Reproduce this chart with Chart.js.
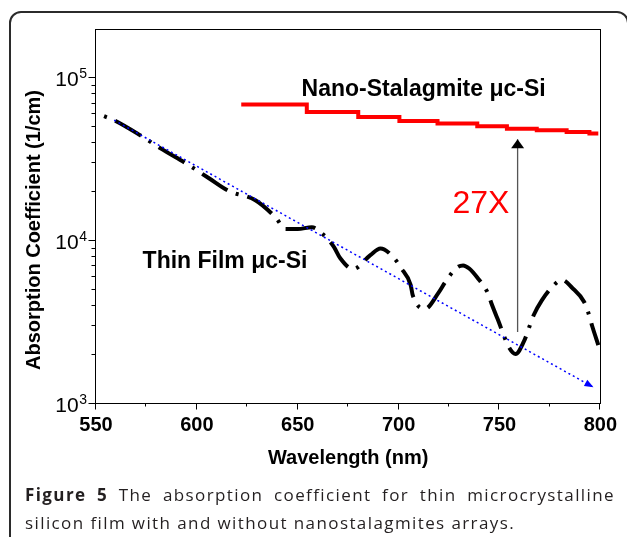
<!DOCTYPE html>
<html>
<head>
<meta charset="utf-8">
<script src="https://cdn.jsdelivr.net/npm/chart.js@4.4.1/dist/chart.umd.min.js"></script>
<style>
  html, body { margin: 0; padding: 0; background: #fff; overflow: hidden; }
  #wrap { position: relative; width: 627px; height: 537px; overflow: hidden; }
  #frame { position: absolute; left: 9px; top: 11px; width: 620px; height: 600px;
           box-sizing: border-box; border: 2px solid #2b2b2b; border-radius: 12px; }
  #chartBox { position: absolute; left: 0; top: 0; width: 627px; height: 537px; }
  #caption { position: absolute; left: 25px; top: 481px; width: 590px;
             font-family: 'Open Sans', sans-serif; font-size: 17px; line-height: 28px;
             letter-spacing: 1.4px; color: #231f20; }
  #caption .l1 { text-align: justify; text-align-last: justify; }
  #caption .l2 { white-space: nowrap; }
</style>
</head>
<body>
<div id="wrap">
  <div id="frame"></div>
  <div id="chartBox"><canvas id="absorptionChart"></canvas></div>
  <div id="caption">
    <div class="l1"><b>Figure 5</b> The absorption coefficient for thin microcrystalline</div>
    <div class="l2">silicon film with and without nanostalagmites arrays.</div>
  </div>
</div>
<script>
// thin film uc-Si (black dash-dot)
const thinWavelength = [554, 559, 572, 582, 596, 606, 616, 629, 639, 644, 650, 657, 662, 668, 671, 677.5,
    686, 691, 698, 701, 706, 707, 713, 720, 723, 729, 732, 735, 739, 744, 746, 749, 755, 758,
    762, 767, 771, 777, 781, 786, 792, 794, 796, 799];
const thinAbsorption = [57700, 54500, 44000, 36600, 28900, 24000, 20000, 17600, 13800, 11700, 11700, 12000,
    11000, 9060, 7770, 6640, 8100, 8900, 7700, 6800, 5300, 4600, 3780, 4800, 5500, 6800, 7000, 6700,
    5900, 4800, 4100, 3300, 2170, 2000, 2370, 3470, 4270, 5300, 5700, 5100, 4170, 3600, 2960, 2270];

// nano-stalagmite uc-Si (red, stepped)
const nanoWavelength = [622, 654.5, 680, 700.4, 719.3, 739, 753.7, 768.5, 783.3, 794.6, 799];
const nanoAbsorption = [68200, 61200, 57100, 53900, 52000, 50000, 48400, 47300, 46200, 45200, 45200];

// blue trend arrow
const trendWavelength = [559, 796.6];
const trendAbsorption = [54500, 1250];

// black "27X" arrow
const gainWavelength = [759, 759];
const gainAbsorption = [2730, 41700];

const xTickValues = [550, 600, 650, 700, 750, 800];
const xMinorValues = [575, 625, 675, 725, 775];
const yDecades = [1000, 10000, 100000];

const FONT = "Arial, 'Liberation Sans', sans-serif";

function toPoints(xs, ys) {
    return xs.map((x, i) => ({ x: x, y: ys[i] }));
}

// texts placed in data coordinates
const notes = [
    { text: 'Nano-Stalagmite \u03bcc-Si', x: 651.9, y: 76400, font: 'bold 23px ' + FONT, color: '#000' },
    { text: 'Thin Film \u03bcc-Si', x: 573.1, y: 6730, font: 'bold 23px ' + FONT, color: '#000' },
    { text: '27X', x: 726.7, y: 14660, font: '32px ' + FONT, color: '#ff0000' }
];

const axisDecor = {
    id: 'axisDecor',
    afterDatasetsDraw(chart) {
        const { ctx, chartArea: ca, scales: { x, y } } = chart;
        const L = Math.round(ca.left) - 0.5, R = Math.round(ca.right) + 0.5;
        const T = Math.round(ca.top) + 0.5, B = Math.round(ca.bottom) + 0.5;
        ctx.save();
        ctx.strokeStyle = '#000';
        ctx.lineWidth = 1;
        ctx.strokeRect(L, T, R - L, B - T);

        ctx.beginPath();
        // y ticks: decades long, 2..9 short
        yDecades.forEach(d => {
            for (let m = 1; m <= 9; m++) {
                const v = m * d;
                if (v > y.max) break;
                const py = Math.round(y.getPixelForValue(v)) + 0.5;
                const len = m === 1 ? 7 : 4;
                ctx.moveTo(L - len, py);
                ctx.lineTo(L, py);
            }
        });
        xTickValues.forEach(v => {
            const px = Math.round(x.getPixelForValue(v)) - 0.5;
            ctx.moveTo(px, B);
            ctx.lineTo(px, B + 6);
        });
        xMinorValues.forEach(v => {
            const px = Math.round(x.getPixelForValue(v)) - 0.5;
            ctx.moveTo(px, B);
            ctx.lineTo(px, B + 3);
        });
        ctx.stroke();

        // y labels 10^n
        ctx.fillStyle = '#000';
        ctx.textBaseline = 'alphabetic';
        ctx.textAlign = 'right';
        yDecades.forEach(d => {
            const py = y.getPixelForValue(d);
            const exp = String(Math.round(Math.log10(d)));
            ctx.font = '14px ' + FONT;
            const ew = ctx.measureText(exp).width;
            ctx.fillText(exp, 87, py + 0.5);
            ctx.font = '21px ' + FONT;
            ctx.fillText('10', 87 - ew - 0.5, py + 9);
        });

        // y title
        ctx.save();
        ctx.translate(34, 230);
        ctx.rotate(-Math.PI / 2);
        ctx.textAlign = 'center';
        ctx.textBaseline = 'middle';
        ctx.font = 'bold 20px ' + FONT;
        ctx.fillText('Absorption Coefficient (1/cm)', 0, 0);
        ctx.restore();

        // notes
        ctx.textAlign = 'left';
        ctx.textBaseline = 'alphabetic';
        notes.forEach(n => {
            ctx.font = n.font;
            ctx.fillStyle = n.color;
            ctx.fillText(n.text, x.getPixelForValue(n.x), y.getPixelForValue(n.y));
        });

        // arrowheads at the end of datasets that ask for one
        chart.data.datasets.forEach((ds, i) => {
            if (!ds.arrow) return;
            const pts = chart.getDatasetMeta(i).data;
            const a = pts[pts.length - 2], b = pts[pts.length - 1];
            const ang = Math.atan2(b.y - a.y, b.x - a.x);
            ctx.save();
            ctx.translate(b.x, b.y);
            ctx.rotate(ang);
            ctx.fillStyle = ds.arrow.color;
            ctx.beginPath();
            ctx.moveTo(0, 0);
            ctx.lineTo(-ds.arrow.len, -ds.arrow.half);
            ctx.lineTo(-ds.arrow.len, ds.arrow.half);
            ctx.closePath();
            ctx.fill();
            ctx.restore();
        });
        ctx.restore();
    }
};

new Chart(document.getElementById('absorptionChart').getContext('2d'), {
    type: 'line',
    data: {
        datasets: [
            {
                data: toPoints(trendWavelength, trendAbsorption),
                borderColor: '#0000ff',
                borderWidth: 1.5,
                borderDash: [2, 3],
                pointRadius: 0,
                arrow: { color: '#0000ff', len: 9, half: 3.5 }
            },
            {
                data: toPoints(nanoWavelength, nanoAbsorption),
                borderColor: '#ff0000',
                borderWidth: 4,
                stepped: 'before',
                pointRadius: 0
            },
            {
                data: toPoints(thinWavelength, thinAbsorption),
                borderColor: '#000',
                borderWidth: 4,
                borderDash: [3, 9, 30, 9],
                borderCapStyle: 'butt',
                cubicInterpolationMode: 'monotone',
                pointRadius: 0
            },
            {
                data: toPoints(gainWavelength, gainAbsorption),
                borderColor: '#555',
                borderWidth: 1.3,
                pointRadius: 0,
                arrow: { color: '#000', len: 9, half: 6.5 }
            }
        ]
    },
    options: {
        responsive: true,
        maintainAspectRatio: false,
        animation: false,
        layout: { padding: { left: 0, top: 29, right: 23, bottom: 64 } },
        plugins: {
            legend: { display: false },
            tooltip: { enabled: false }
        },
        scales: {
            x: {
                type: 'linear',
                position: 'bottom',
                min: 550,
                max: 800,
                grid: { display: false, drawTicks: false },
                border: { display: false },
                afterBuildTicks: s => { s.ticks = xTickValues.map(v => ({ value: v })); },
                afterFit: s => { s.height = 70; },
                ticks: {
                    color: '#000',
                    padding: 10,
                    font: { family: FONT, size: 20, weight: 'bold' }
                },
                title: {
                    display: true,
                    text: 'Wavelength (nm)',
                    color: '#000',
                    font: { family: FONT, size: 20, weight: 'bold' },
                    padding: { top: 0, bottom: 3 }
                }
            },
            y: {
                type: 'logarithmic',
                position: 'left',
                min: 1000,
                max: 198000,
                grid: { display: false, drawTicks: false },
                border: { display: false },
                ticks: { display: false },
                afterFit: s => { s.width = 96; }
            }
        }
    },
    plugins: [axisDecor]
});
</script>
</body>
</html>
